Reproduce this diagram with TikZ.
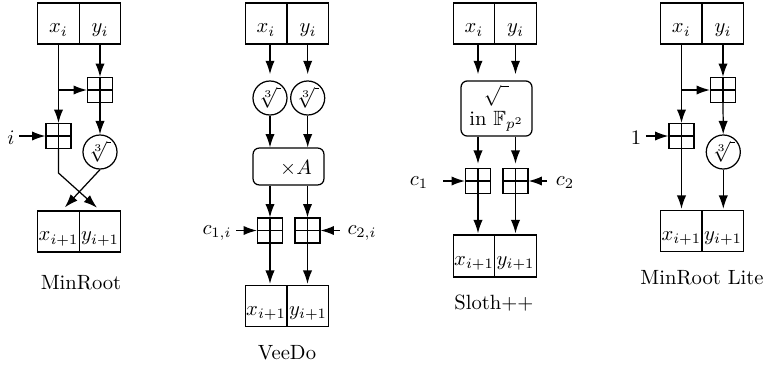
\documentclass[tikz,border=0pt]{standalone}
\usepackage{amssymb}
\usetikzlibrary{arrows.meta}
\begin{document}
\begin{tikzpicture}[x=0.485pt,y=-0.485pt,line width=0.6pt,
  cell/.style={draw,minimum width=20.1pt,minimum height=19.9pt,inner sep=0pt,text height=10pt,text depth=0.8pt},
  plusbox/.style={draw,minimum size=12.1pt,inner sep=0pt,
    path picture={\draw[line width=0.5pt] (path picture bounding box.north) -- (path picture bounding box.south)
                        (path picture bounding box.west) -- (path picture bounding box.east);}},
  rootc/.style={draw,circle,minimum size=16.5pt,inner sep=0pt},
  roundbox/.style={draw,rounded corners=3pt,inner sep=0pt,minimum width=34.4pt},
  lab/.style={inner sep=2pt},
  arr/.style={-{Latex[length=6.5pt,width=4.5pt]}}]
\useasboundingbox (0,0) rectangle (764,369);
% ---------------- MinRoot
\node[cell] (mx) at (58.5,23.5) {$x_i$};
\node[cell] (my) at (100,23.5) {$y_i$};
\node[plusbox] (mp1) at (100,90) {};
\node[plusbox] (mp2) at (58.5,136) {};
\node[rootc] (mr) at (100,152) {$\sqrt[3]{\hspace{2pt}}$};
\node[cell] (mxo) at (58.5,231.5) {$x_{i+1}$};
\node[cell] (myo) at (100,231.5) {$y_{i+1}$};
\node[lab] (mi) at (11,138) {$i$};
\node (mname) at (81,283) {MinRoot};
\coordinate (mb) at (58.5,173);
\draw[arr] (mx) -- (mp2);
\draw[arr] (mx.south |- mp1) -- (mp1);
\draw[arr] (my) -- (mp1);
\draw[arr] (mp1) -- (mr);
\draw[arr] (mi.east |- mp2) -- (mp2);
\draw[arr,shorten >=2pt] (mp2) -- (mb) -- (myo.north);
\draw[arr,shorten >=2pt] (mr.south) -- ([xshift=1.7pt]mxo.north);
% ---------------- VeeDo
\node[cell] (vx) at (266,23.5) {$x_i$};
\node[cell] (vy) at (308,23.5) {$y_i$};
\node[rootc] (vr1) at (270,98) {$\sqrt[3]{\hspace{2pt}}$};
\node[rootc] (vr2) at (307.7,98) {$\sqrt[3]{\hspace{2pt}}$};
\node[roundbox,minimum height=17.9pt] (vA) at (288.5,166.5) {};
\node (vAt) at (296,168) {$\times A$};
\node[plusbox] (vp1) at (270,230.5) {};
\node[plusbox] (vp2) at (307.5,230.5) {};
\node[lab] (vc1) at (217,233) {$c_{1,i}$};
\node[lab] (vc2) at (362,233) {$c_{2,i}$};
\node[cell] (vxo) at (266,306) {$x_{i+1}$};
\node[cell] (vyo) at (308,306) {$y_{i+1}$};
\node (vname) at (287,353) {VeeDo};
\draw[arr,shorten >=3pt] (vx.south -| vr1) -- (vr1.north);
\draw[arr,shorten >=3pt] (vy.south -| vr2) -- (vr2.north);
\draw[arr] (vr1) -- (vA.north -| vr1);
\draw[arr] (vr2) -- (vA.north -| vr2);
\draw[arr] (vA.south -| vp1) -- (vp1);
\draw[arr] (vA.south -| vp2) -- (vp2);
\draw[arr] (vc1.east |- vp1) -- (vp1);
\draw[arr,shorten <=1.5pt] (vc2.west |- vp2) -- (vp2);
\draw[arr,shorten >=0.5pt] (vp1) -- (vp1 |- vxo.north);
\draw[arr,shorten >=0.5pt] (vp2) -- (vp2 |- vyo.north);
% ---------------- Sloth++
\node[cell] (sx) at (474,23.5) {$x_i$};
\node[cell] (sy) at (515.5,23.5) {$y_i$};
\node[roundbox,minimum height=26.7pt,align=center] (sR) at (496.5,108.5) {$\sqrt{\hspace{4pt}}$\\[1.5pt]in $\mathbb{F}_{p^2}$};
\node[plusbox] (sp1) at (478,181) {};
\node[plusbox] (sp2) at (515.5,181) {};
\node[lab] (sc1) at (419,183) {$c_1$};
\node[lab] (sc2) at (565,183) {$c_2$};
\node[cell,minimum height=20.4pt] (sxo) at (474,256) {$x_{i+1}$};
\node[cell,minimum height=20.4pt] (syo) at (515.5,256) {$y_{i+1}$};
\node (sname) at (494,303) {Sloth++};
\draw[arr,shorten >=3pt] (sx.south -| sp1) -- (sR.north -| sp1);
\draw[arr,shorten >=3pt] (sy.south -| sp2) -- (sR.north -| sp2);
\draw[arr,shorten >=2pt] (sR.south -| sp1) -- (sp1);
\draw[arr,shorten >=2pt] (sR.south -| sp2) -- (sp2);
\draw[arr,shorten <=5pt] (sc1.east |- sp1) -- (sp1);
\draw[arr,shorten <=2pt] (sc2.west |- sp2) -- (sp2);
\draw[arr,shorten >=0.5pt] (sp1) -- (sp1 |- sxo.north);
\draw[arr,shorten >=0.5pt] (sp2) -- (sp2 |- syo.north);
% ---------------- MinRoot Lite
\node[cell] (lx) at (681.3,23.5) {$x_i$};
\node[cell] (ly) at (723,23.5) {$y_i$};
\node[plusbox] (lp1) at (723,90) {};
\node[plusbox] (lp2) at (681.5,136) {};
\node[rootc] (lr) at (723.3,152) {$\sqrt[3]{\hspace{2pt}}$};
\node[cell] (lxo) at (681.3,231) {$x_{i+1}$};
\node[cell] (lyo) at (723,231) {$y_{i+1}$};
\node[lab] (l1) at (636,138) {$1$};
\node (lname) at (702,278) {MinRoot Lite};
\draw[arr] (lx.south -| lp2) -- (lp2);
\draw[arr] (lp2 |- lp1) -- (lp1);
\draw[arr] (ly.south -| lp1) -- (lp1);
\draw[arr] (lp1) -- (lr);
\draw[arr] (l1.east |- lp2) -- (lp2);
\draw[arr,shorten >=0.5pt] (lp2) -- (lp2 |- lxo.north);
\draw[arr,shorten >=0.5pt] (lr) -- (lr |- lyo.north);
\end{tikzpicture}
\end{document}
